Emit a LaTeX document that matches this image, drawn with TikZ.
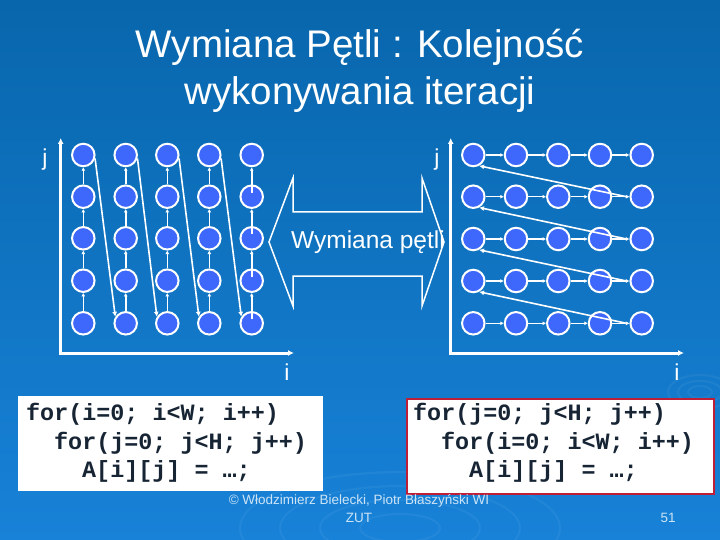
\documentclass[tikz,border=0pt]{standalone}
\usepackage{fontspec}
\setmainfont{Liberation Sans}
\newfontfamily\codefont{Liberation Mono}
\usetikzlibrary{arrows.meta}
\definecolor{bgtop}{RGB}{8,102,172}
\definecolor{bgbot}{RGB}{24,130,216}
\definecolor{dotblue}{RGB}{62,104,252}
\definecolor{codeink}{RGB}{22,36,52}
\definecolor{boxred}{RGB}{190,30,55}
\definecolor{footink}{RGB}{205,228,246}
\begin{document}
\begin{tikzpicture}[x=1pt,y=-1pt,
  dot/.style={circle,draw=white,line width=2pt,fill=dotblue,minimum size=22.5pt,inner sep=0pt},
  link/.style={draw=white,line width=1.6pt,-{Latex[length=3.5pt,width=4pt]}},
  jump/.style={draw=white,line width=1.6pt,-{Latex[length=5pt,width=5pt]}},
  axis/.style={draw=white,line width=3pt,{Latex[length=6pt,width=6pt]}-{Latex[length=6pt,width=6pt]}},
  axlabel/.style={text=white,font=\fontsize{23}{27}\selectfont,inner sep=0pt},
  titletext/.style={text=white,font=\fontsize{38.5}{44}\selectfont,inner sep=0pt,anchor=base},
  codebox/.style={fill=white,minimum width=305pt,minimum height=95pt,inner sep=0pt,anchor=north west},
  codeline/.style={text=codeink,font=\codefont\bfseries\fontsize{23.4}{28}\selectfont,inner sep=0pt,anchor=base west},
  foot/.style={text=footink,font=\fontsize{13.5}{16}\selectfont,inner sep=0pt,anchor=base},
  ripple/.style={draw=white,draw opacity=0.05,line width=2pt}
]
\useasboundingbox (0,0) rectangle (720,540);
\shade[top color=bgtop,middle color=bgtop,bottom color=bgbot] (0,0) rectangle (720,540);
% faint ripples
\foreach \rx/\ry in {40/14,80/28,120/42,160/56} \draw[ripple] (400,528) ellipse ({\rx} and {\ry});
\foreach \rx/\ry in {12/6,22/11,32/17} \draw[ripple] (700,392) ellipse ({\rx} and {\ry});

% title
\node[titletext] (t1) at (360,58) {Wymiana Pętli : Kolejność};
\node[titletext] (t2) at (360,105) {wykonywania iteracji};

% axes
\coordinate (LY) at (60.7,138);
\coordinate (LO) at (60.7,353);
\coordinate (LX) at (294,353);
\draw[axis] (LY) -- (LO) -- (LX);
\coordinate (RY) at (450.7,138);
\coordinate (RO) at (450.7,353);
\coordinate (RX) at (684,353);
\draw[axis] (RY) -- (RO) -- (RX);
\node[axlabel] (jL) at (45,160) {j};
\node[axlabel] (jR) at (437,160) {j};
\node[axlabel] (iL) at (287,372) {i};
\node[axlabel] (iR) at (677,372) {i};

% dots
\foreach \cc/\xx in {1/83.3,2/125.7,3/167.3,4/209.3,5/251.7}
  \foreach \rr/\yy in {1/155,2/196.7,3/238.3,4/280.7,5/323.3}
    \node[dot] (L-\cc-\rr) at (\xx,\yy) {};
\foreach \cc/\xx in {1/473.3,2/516,3/558.3,4/600,5/641.7}
  \foreach \rr/\yy in {1/155,2/196.7,3/239,4/281,5/323.3}
    \node[dot] (R-\cc-\rr) at (\xx,\yy) {};

% left: columns go upward
\foreach \cc in {1,2,3,4}
  \foreach \rr/\rn in {1/2,2/3,3/4,4/5}
    \draw[link] (L-\cc-\rn.north) -- (L-\cc-\rr.south);
\foreach \rr/\rn in {1/2,2/3,3/4,4/5}
  \draw[link] ([yshift=4pt]L-5-\rn.center) -- (L-5-\rr.south);
\foreach \cc/\cn in {1/2,2/3,3/4,4/5}
  \draw[jump] (L-\cc-1.-16) -- (L-\cn-5.148);

% right: rows go rightward
\foreach \rr in {1,2,3,4,5}
  \foreach \cc/\cn in {1/2,2/3,3/4,4/5}
    \draw[link] (R-\cc-\rr.east) -- (R-\cn-\rr.west);
\foreach \rr/\rn in {1/2,2/3,3/4,4/5}
  \draw[jump] ([xshift=-3pt]R-5-\rn.west) -- (R-1-\rr.-62);

% exchange double arrow
\draw[white,line width=1.5pt,line join=miter]
  (269,242) -- (293,178) -- (293,212) -- (422,212) -- (422,178) -- (444,242)
  -- (422,306) -- (422,276) -- (293,276) -- (293,306) -- cycle;
\node[text=white,font=\fontsize{24.5}{28}\selectfont,inner sep=0pt] (swap) at (368,242) {Wymiana pętli};

% code boxes
\node[codebox] (boxL) at (18,396) {};
\node[codeline] (cL1) at (26,420) {for(i=0; i<W; i++)};
\node[codeline] (cL2) at (54,449) {for(j=0; j<H; j++)};
\node[codeline] (cL3) at (82,477.5) {A[i][j] = …;};
\node[codebox,draw=boxred,line width=2pt,minimum width=307pt] (boxR) at (406,398) {};
\node[codeline] (cR1) at (413,420) {for(j=0; j<H; j++)};
\node[codeline] (cR2) at (441,449) {for(i=0; i<W; i++)};
\node[codeline] (cR3) at (469,477.5) {A[i][j] = …;};

% footer
\node[foot] (f1) at (359,504) {© Włodzimierz Bielecki, Piotr Błaszyński WI};
\node[foot] (f2) at (359,522) {ZUT};
\node[foot] (f3) at (668,522) {51};
\end{tikzpicture}
\end{document}
